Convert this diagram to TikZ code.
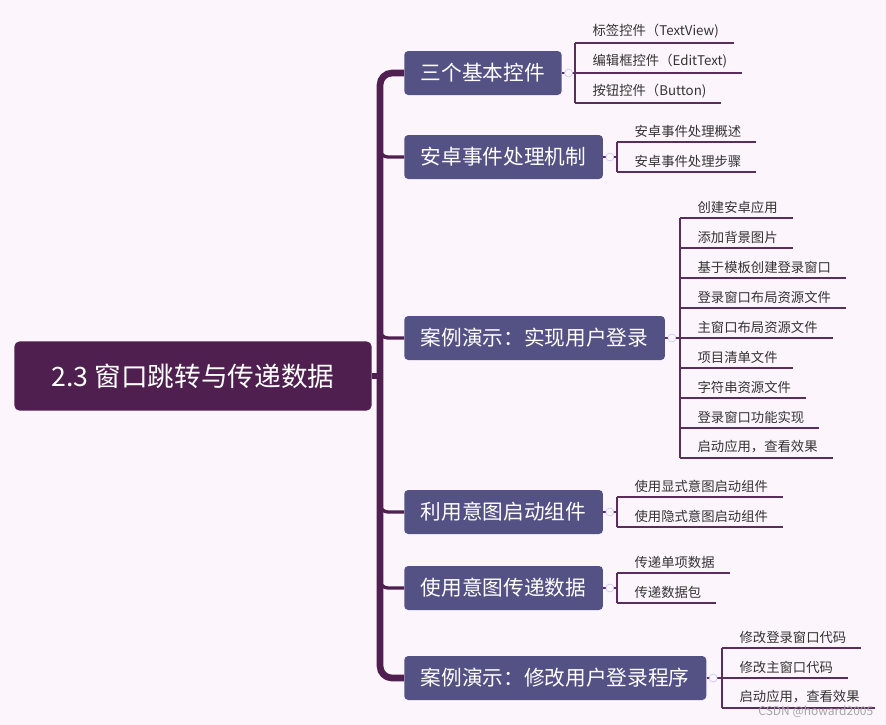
\documentclass[tikz,border=0pt]{standalone}
\usepackage{fontspec}
\setmainfont{Noto Sans CJK SC}
\definecolor{bg}{HTML}{FCF5FC}
\definecolor{trunk}{HTML}{4E1F4F}
\definecolor{branchc}{HTML}{545184}
\definecolor{leafc}{HTML}{5A2D5C}
\tikzset{
  rootbox/.style={fill=trunk, text=white, rounded corners=4pt, font=\fontsize{20}{22}\selectfont, minimum height=52pt, minimum width=268pt},
  branchbox/.style={fill=branchc, text=white, rounded corners=3pt, font=\fontsize{15.5}{17}\selectfont, minimum height=33pt, anchor=west, inner xsep=12.5pt},
  leaftext/.style={anchor=south west, text=black!80, font=\fontsize{10}{11}\selectfont, inner sep=1pt},
  leafline/.style={draw=leafc, line width=1.3pt},
  knob/.style={circle, draw=blue!25, fill=bg, inner sep=0pt, minimum size=6pt}
}
\begin{document}
\begin{tikzpicture}[x=0.75pt, y=-0.75pt]
\fill[bg] (0,0) rectangle (886,725);
\useasboundingbox (0,0) rectangle (886,725);

% root
\node[rootbox] (root) at (193,376) {2.3 窗口跳转与传递数据};
\draw[trunk, line width=4pt] (root.east) -- (380,376);
\draw[trunk, line width=5pt, rounded corners=9pt] (404,73) -- (380,73) -- (380,678) -- (404,678);

% branches
\node[branchbox] (b1) at (404,73) {三个基本控件};
\node[branchbox] (b2) at (404,157) {安卓事件处理机制};
\node[branchbox] (b3) at (404,338) {案例演示：实现用户登录};
\node[branchbox] (b4) at (404,512) {利用意图启动组件};
\node[branchbox] (b5) at (404,588) {使用意图传递数据};
\node[branchbox] (b6) at (404,678) {案例演示：修改用户登录程序};
\foreach \b/\y in {b2/157,b3/338,b4/512,b5/588}
  \draw[trunk, line width=2.5pt, rounded corners=6pt] (380,\y-16) -- (380,\y) -- (\b.west);

% leaves: vertical x, first underline y, list
\foreach \b/\vx/\ytop/\ybot/\items in {
  b1/575/43/103/{标签控件（TextView),编辑框控件（EditText),按钮控件（Button)},
  b2/617/142/172/{安卓事件处理概述,安卓事件处理步骤},
  b3/680/218/458/{创建安卓应用,添加背景图片,基于模板创建登录窗口,登录窗口布局资源文件,主窗口布局资源文件,项目清单文件,字符串资源文件,登录窗口功能实现,启动应用，查看效果},
  b4/617/497/527/{使用显式意图启动组件,使用隐式意图启动组件},
  b5/617/573/603/{传递单项数据,传递数据包},
  b6/722/648/708/{修改登录窗口代码,修改主窗口代码,启动应用，查看效果}}{
  \draw[leafline] (\b.east) -- (\vx,{(\ytop+\ybot)/2});
  \node[knob] at ([xshift=5pt]\b.east) {};
  \draw[leafline] (\vx,\ytop) -- (\vx,\ybot);
  \foreach \t [count=\i] in \items {
    \node[leaftext] (\b l\i) at (\vx+16,\ytop+30*\i-30-3) {\t};
    \draw[leafline] (\vx,\ytop+30*\i-30) -- ([xshift=10pt]\b l\i.south east |- 0,\ytop+30*\i-30);
  }
}
\node[text=gray!70, font=\fontsize{9}{10}\selectfont, anchor=south east] (mark) at (878,722) {CSDN @howard2005};
\end{tikzpicture}
\end{document}
